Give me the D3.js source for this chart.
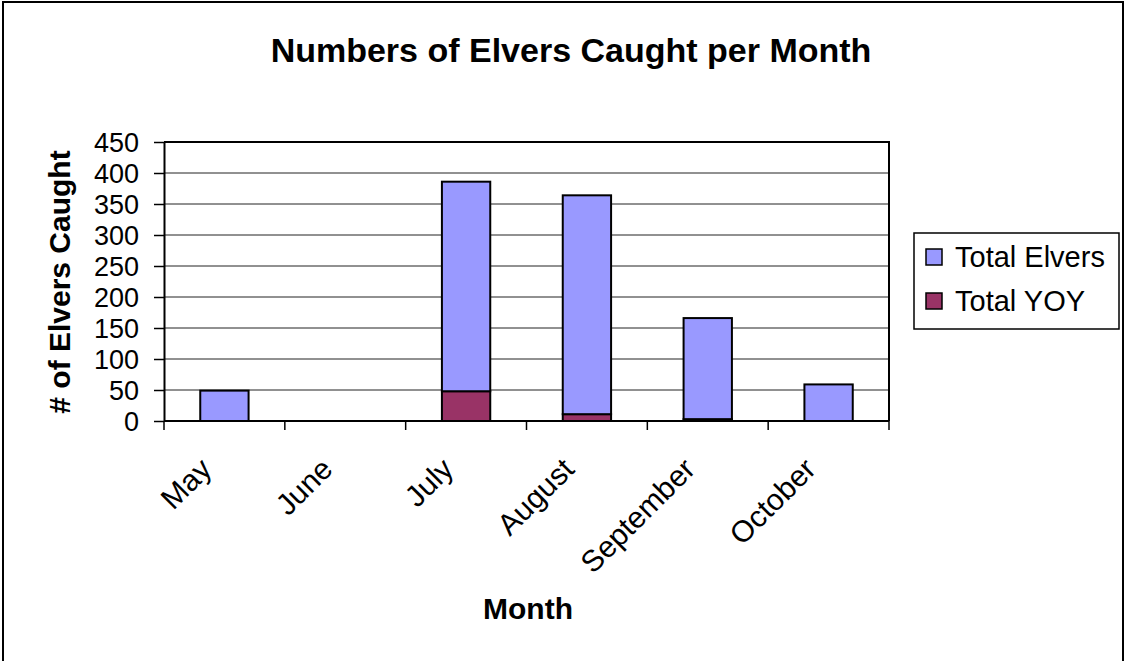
<!DOCTYPE html>
<html>
<head>
<meta charset="utf-8">
<script src="https://cdn.jsdelivr.net/npm/d3@7"></script>
<style>
  body { margin: 0; background: #fff; }
  text { font-family: "Liberation Sans", Arial, sans-serif; fill: #000; }
</style>
</head>
<body>
<div class="chart"></div>
<script>
// data
const months = ['May', 'June', 'July', 'August', 'September', 'October'];
// stacked segments: YOY sits at the bottom, Total Elvers on top of it
const totalYOY = [0, 0, 48, 11, 3, 0];
const totalElvers = [49, 0, 338, 353, 163, 59];
const yTicks = [0, 50, 100, 150, 200, 250, 300, 350, 400, 450];

const seriesInfo = [
    { name: 'Total Elvers', color: '#9999FF' },
    { name: 'Total YOY', color: '#993366' }
];

drawChart();

function drawChart() {
    const svg_width = 1127;
    const svg_height = 661;
    const plot = { left: 164, top: 142, right: 889, bottom: 421 };
    const plot_w = plot.right - plot.left;
    const plot_h = plot.bottom - plot.top;

    const svg = d3.select('.chart').append('svg')
        .attr('width', svg_width).attr('height', svg_height);

    // outer frame
    svg.append('rect')
        .attr('x', 3).attr('y', 2).attr('width', 1120).attr('height', 700)
        .style('fill', 'none').style('stroke', '#000').style('stroke-width', 2);

    // title
    svg.append('text')
        .attr('x', 571).attr('y', 62)
        .attr('text-anchor', 'middle')
        .style('font-size', '34px').style('font-weight', 'bold')
        .text('Numbers of Elvers Caught per Month');

    const g = svg.append('g').attr('transform', `translate(${plot.left},${plot.top})`);

    // scales
    const xScale = d3.scaleBand().domain(months).range([0, plot_w])
        .paddingInner(0.6).paddingOuter(0.3);
    const yScale = d3.scaleLinear().domain([0, 450]).range([plot_h, 0]);

    // gridlines
    g.append('g').attr('class', 'grid')
        .selectAll('line').data(yTicks.filter(d => d > 0)).enter()
        .append('line')
        .attr('x1', 0).attr('x2', plot_w)
        .attr('y1', d => yScale(d)).attr('y2', d => yScale(d))
        .style('stroke', '#222').style('stroke-width', 1);

    // stack
    const rows = months.map((m, i) => ({ month: m, yoy: totalYOY[i], elvers: totalElvers[i] }));
    const stacked = d3.stack().keys(['yoy', 'elvers'])(rows);
    const colors = { yoy: '#993366', elvers: '#9999FF' };

    g.append('g').selectAll('g').data(stacked).enter()
        .append('g')
        .style('fill', d => colors[d.key])
        .selectAll('rect').data(d => d.filter(p => p[1] - p[0] > 0)).enter()
        .append('rect')
        .attr('x', d => xScale(d.data.month))
        .attr('width', xScale.bandwidth())
        .attr('y', d => yScale(d[1]))
        .attr('height', d => yScale(d[0]) - yScale(d[1]))
        .style('stroke', '#000').style('stroke-width', 2);

    // plot frame top/right
    g.append('path')
        .attr('d', `M0,0H${plot_w}V${plot_h}`)
        .style('fill', 'none').style('stroke', '#000').style('stroke-width', 2);

    // y axis
    const yAxis = d3.axisLeft(yScale).tickValues(yTicks).tickSize(10).tickPadding(15).tickSizeOuter(0);
    const yG = g.append('g').attr('class', 'y axis').call(yAxis);
    yG.select('.domain').style('stroke-width', 2);
    yG.selectAll('.tick line').style('stroke-width', 1.5);
    yG.selectAll('.tick text')
        .style('font-size', '27px').style('font-family', '"Liberation Sans", Arial, sans-serif')
        .attr('dy', '0.36em');

    // x axis: line along zero and ticks at category boundaries
    g.append('line')
        .attr('x1', 0).attr('x2', plot_w).attr('y1', plot_h).attr('y2', plot_h)
        .style('stroke', '#000').style('stroke-width', 2);
    const step = xScale.step();
    g.append('g').selectAll('line').data(d3.range(months.length + 1)).enter()
        .append('line')
        .attr('x1', d => d * step).attr('x2', d => d * step)
        .attr('y1', plot_h).attr('y2', plot_h + 9)
        .style('stroke', '#000').style('stroke-width', 1.5);

    // rotated month labels
    g.append('g').selectAll('text').data(months).enter()
        .append('text')
        .attr('transform', d => `translate(${xScale(d) + xScale.bandwidth() / 2 - 11},${plot_h + 50}) rotate(-45)`)
        .attr('text-anchor', 'end')
        .style('font-size', '30px')
        .text(d => d);

    // axis titles
    svg.append('text')
        .attr('transform', 'translate(70,282) rotate(-90)')
        .attr('text-anchor', 'middle')
        .style('font-size', '30px').style('font-weight', 'bold')
        .text('# of Elvers Caught');
    svg.append('text')
        .attr('x', 528).attr('y', 619)
        .attr('text-anchor', 'middle')
        .style('font-size', '30px').style('font-weight', 'bold')
        .text('Month');

    // legend
    const legend = svg.append('g').attr('transform', 'translate(914,233)');
    legend.append('rect')
        .attr('width', 205).attr('height', 96)
        .style('fill', '#fff').style('stroke', '#000').style('stroke-width', 1.5);
    const items = legend.selectAll('.item').data(seriesInfo).enter()
        .append('g').attr('transform', (d, i) => `translate(12,${24 + i * 44})`);
    items.append('rect')
        .attr('x', 0).attr('y', -8).attr('width', 16).attr('height', 16)
        .style('fill', d => d.color).style('stroke', '#000').style('stroke-width', 1.5);
    items.append('text')
        .attr('x', 29).attr('y', 0).attr('dy', '0.36em')
        .style('font-size', '29px')
        .text(d => d.name);
}
</script>
</body>
</html>
